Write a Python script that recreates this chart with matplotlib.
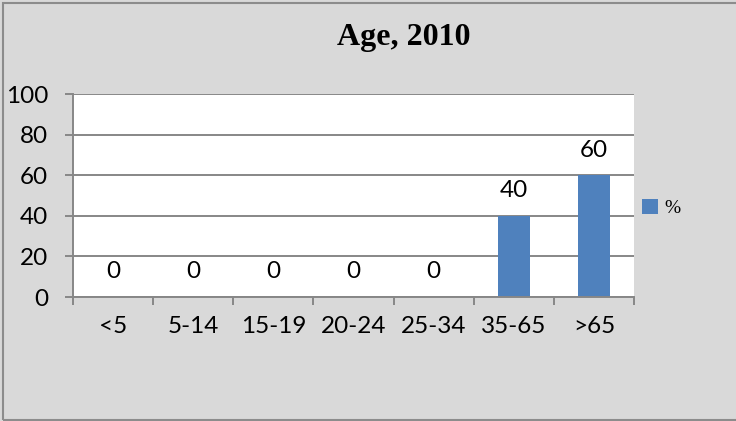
import matplotlib
matplotlib.use("Agg")
import matplotlib.pyplot as plt
from matplotlib.patches import Patch, Rectangle

categories = ["<5", "5-14", "15-19", "20-24", "25-34", "35-65", ">65"]
values = [0, 0, 0, 0, 0, 40, 60]
yticks = [0, 20, 40, 60, 80, 100]
title = "Age, 2010"
series_name = "%"

W, H = 736, 421
fig = plt.figure(figsize=(W / 100, H / 100), dpi=100)
fig.patch.set_facecolor("#d9d9d9")

# outer border (right side runs off the image as in the reference)
fig.patches.append(Rectangle((2.5 / W, 1.5 / H), 1.0, 1 - 4 / H, transform=fig.transFigure,
                             fill=False, edgecolor="#8c8c8c", linewidth=1.5))

ax = fig.add_axes([73 / W, 1 - 297 / H, (634 - 73) / W, (297 - 94) / H])
ax.set_facecolor("white")

sans = "Lato"
fs = 17.5
grid_c = "#878787"

x = list(range(len(categories)))
ax.bar(x, values, width=0.4, color="#4f81bd", zorder=3)
ax.set_xlim(-0.5, len(categories) - 0.5)
ax.set_ylim(0, 100)

ax.set_yticks(yticks)
ax.set_yticklabels([str(t) for t in yticks], fontfamily=sans, fontsize=fs)
ax.yaxis.grid(True, color=grid_c, linewidth=1.4, zorder=0)
ax.tick_params(axis="y", length=6, width=1.4, color=grid_c, pad=12)

ax.set_xticks([i - 0.5 for i in range(len(categories) + 1)])
ax.set_xticklabels([])
ax.set_xticks(x, minor=True)
ax.set_xticklabels(categories, minor=True, fontfamily=sans, fontsize=fs)
ax.tick_params(axis="x", which="major", length=6, width=1.4, color=grid_c)
ax.tick_params(axis="x", which="minor", length=0, pad=14)

for s in ["top", "right"]:
    ax.spines[s].set_visible(False)
for s in ["left", "bottom"]:
    ax.spines[s].set_color(grid_c)
    ax.spines[s].set_linewidth(1.4)
    ax.spines[s].set_zorder(4)

for xi, v in zip(x, values):
    ax.annotate(str(v), (xi, v), xytext=(0, 18), textcoords="offset points",
                ha="center", va="center", fontfamily=sans, fontsize=fs, zorder=5)

fig.text(404 / W, 1 - 37 / H, title, ha="center", va="center",
         fontfamily="Liberation Serif", fontweight="bold", fontsize=23)

fig.legend(handles=[Patch(facecolor="#4f81bd", label=series_name)],
           loc="center left", bbox_to_anchor=(624 / W, 1 - 208 / H),
           frameon=False, handlelength=0.85, handleheight=0.85, handletextpad=0.35,
           prop={"family": "Liberation Serif", "size": 14})

fig.savefig("out.png", dpi=100, facecolor=fig.get_facecolor())
